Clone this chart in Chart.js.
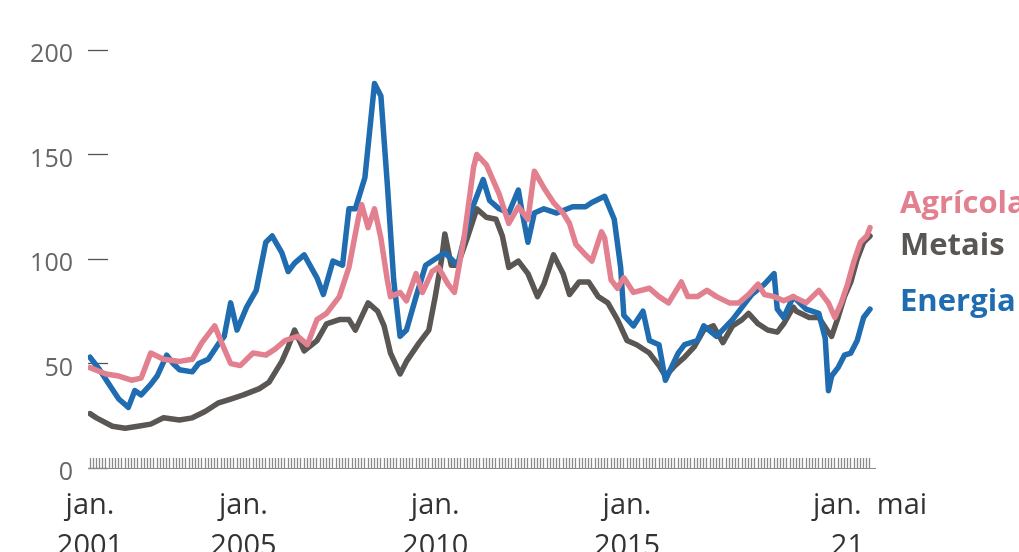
<!DOCTYPE html>
<html>
<head>
<meta charset="utf-8">
<script src="https://cdn.jsdelivr.net/npm/chart.js@4/dist/chart.umd.min.js"></script>
<style>
  html, body { margin: 0; padding: 0; background: #ffffff; }
  #wrap { position: relative; width: 1019px; height: 552px; }
</style>
</head>
<body>
<div id="wrap"><canvas id="c"></canvas></div>
<script>
// ---- data ----
const seriesNames = ["Agrícola", "Metais", "Energia"];

const energiaDates = ["2001-01","2001-04","2001-07","2001-10","2002-01","2002-03","2002-05","2002-08","2002-10","2003-01","2003-03","2003-05","2003-09","2003-11","2004-02","2004-05","2004-07","2004-09","2004-11","2005-02","2005-05","2005-08","2005-10","2006-01","2006-03","2006-05","2006-08","2006-12","2007-02","2007-05","2007-08","2007-10","2007-12","2008-03","2008-06","2008-08","2008-10","2008-12","2009-02","2009-04","2009-07","2009-10","2010-01","2010-04","2010-08","2010-12","2011-02","2011-04","2011-06","2011-09","2011-12","2012-03","2012-04","2012-06","2012-08","2012-11","2013-03","2013-08","2013-12","2014-02","2014-06","2014-09","2014-11","2014-12","2015-03","2015-06","2015-08","2015-11","2016-01","2016-05","2016-07","2016-11","2017-01","2017-05","2017-10","2018-01","2018-04","2018-08","2018-11","2018-12","2019-02","2019-05","2019-09","2020-01","2020-03","2020-04","2020-05","2020-07","2020-09","2020-11","2021-01","2021-03","2021-05"];
const energiaValues = [53,47,40,33,29,37,35,40,44,54,50,47,46,50,52,59,63,79,66,77,85,108,111,103,94,98,102,91,83,99,97,124,124,139,184,178,136,90,63,66,82,97,100,103,97,122,130,138,128,124,122,133,124,108,122,124,122,125,125,127,130,119,96,73,68,75,61,59,42,55,59,61,68,63,71,77,83,88,93,76,72,82,76,74,62,37,44,48,54,55,61,72,76];

const agricolaDates = ["2001-01","2001-06","2001-10","2002-02","2002-05","2002-08","2002-12","2003-05","2003-09","2003-12","2004-04","2004-07","2004-09","2004-12","2005-04","2005-08","2005-11","2006-02","2006-06","2006-09","2006-12","2007-03","2007-07","2007-10","2008-01","2008-02","2008-04","2008-06","2008-08","2008-10","2008-11","2009-02","2009-04","2009-07","2009-09","2009-12","2010-02","2010-05","2010-07","2010-10","2011-01","2011-02","2011-05","2011-09","2011-12","2012-03","2012-06","2012-08","2012-11","2013-02","2013-05","2013-07","2013-09","2013-12","2014-02","2014-05","2014-06","2014-08","2014-10","2014-12","2015-03","2015-08","2015-11","2016-02","2016-06","2016-08","2016-11","2017-02","2017-05","2017-09","2017-12","2018-03","2018-06","2018-08","2018-11","2019-02","2019-05","2019-09","2020-01","2020-04","2020-06","2020-08","2020-10","2020-12","2021-02","2021-04","2021-05"];
const agricolaValues = [48,45,44,42,43,55,52,51,52,60,68,57,50,49,55,54,57,61,63,59,71,74,82,96,120,126,115,124,110,90,82,84,80,93,84,94,96,88,84,110,144,150,145,131,117,125,119,142,134,127,122,117,107,102,99,113,110,90,86,91,84,86,82,79,89,82,82,85,82,79,79,83,88,83,82,80,82,79,85,79,72,79,88,99,108,111,115];

const metaisDates = ["2001-01","2001-03","2001-08","2001-12","2002-04","2002-08","2002-12","2003-05","2003-09","2004-01","2004-05","2004-09","2005-01","2005-06","2005-09","2005-11","2006-01","2006-03","2006-05","2006-08","2006-12","2007-03","2007-07","2007-10","2007-12","2008-04","2008-07","2008-09","2008-11","2009-02","2009-04","2009-08","2009-11","2010-01","2010-03","2010-04","2010-06","2010-08","2010-11","2011-02","2011-05","2011-08","2011-10","2011-12","2012-03","2012-06","2012-09","2012-11","2013-02","2013-05","2013-07","2013-10","2014-01","2014-04","2014-07","2014-10","2015-01","2015-04","2015-08","2015-11","2016-01","2016-04","2016-07","2016-10","2017-01","2017-04","2017-07","2017-10","2018-01","2018-03","2018-06","2018-09","2018-12","2019-02","2019-05","2019-06","2019-10","2020-01","2020-04","2020-05","2020-07","2020-09","2020-11","2021-01","2021-03","2021-05"];
const metaisValues = [26,24,20,19,20,21,24,23,24,27,31,33,35,38,41,46,51,58,66,56,61,69,71,71,66,79,75,68,55,45,51,60,66,82,100,112,97,97,110,124,120,119,111,96,99,93,82,88,102,93,83,89,89,82,79,71,61,59,55,49,44,49,53,58,66,68,60,68,71,74,69,66,65,69,77,75,72,72,65,63,72,82,89,100,108,111];

const yTickValues = [0, 50, 100, 150, 200];
const xFirstMonth = "2001-01";
const xLastMonth = "2021-05";
const xLabelMonths = ["2001-01", "2005-01", "2010-01", "2015-01", "2021-05"];
const xLabelLines = [["jan.", "2001"], ["jan.", "2005"], ["jan.", "2010"], ["jan.", "2015"], ["jan.  mai", "21      "]];

// ---- helpers ----
function monthToYear(s) {
  const [y, m] = s.split("-").map(Number);
  return y + (m - 1) / 12;
}
function monthIndex(s) {
  const [y, m] = s.split("-").map(Number);
  return y * 12 + (m - 1);
}
function pts(dates, values) {
  return dates.map((d, i) => ({ x: monthToYear(d), y: values[i] }));
}

const FONT = '"Open Sans", "Noto Sans", "DejaVu Sans", sans-serif';
const COLORS = { agricola: "#e3808f", metais: "#5a5653", energia: "#1f6db0" };

const startIdx = monthIndex(xFirstMonth);
const endIdx = monthIndex(xLastMonth);
const monthTicks = [];
for (let k = startIdx; k <= endIdx; k++) monthTicks.push(Math.floor(k / 12) + (k % 12) / 12);
const labelByIdx = {};
xLabelMonths.forEach((m, i) => { labelByIdx[monthIndex(m)] = xLabelLines[i]; });

const endLabels = {
  id: "endLabels",
  afterDraw(chart) {
    const ctx = chart.ctx;
    const x = chart.chartArea.right + 25;
    ctx.save();
    ctx.font = "bold 31px " + FONT;
    ctx.textAlign = "left";
    ctx.textBaseline = "alphabetic";
    const items = [
      [seriesNames[0], COLORS.agricola, 213],
      [seriesNames[1], COLORS.metais, 255],
      [seriesNames[2], COLORS.energia, 311]
    ];
    items.forEach(([t, c, y]) => { ctx.fillStyle = c; ctx.fillText(t, x, y); });
    ctx.restore();
  }
};

const lineStyle = { borderWidth: 5.5, pointRadius: 0, tension: 0, borderJoinStyle: "round", borderCapStyle: "round", fill: false };

new Chart(document.getElementById("c"), {
  type: "line",
  data: {
    datasets: [
      Object.assign({ label: seriesNames[0], data: pts(agricolaDates, agricolaValues), borderColor: COLORS.agricola }, lineStyle),
      Object.assign({ label: seriesNames[2], data: pts(energiaDates, energiaValues), borderColor: COLORS.energia }, lineStyle),
      Object.assign({ label: seriesNames[1], data: pts(metaisDates, metaisValues), borderColor: COLORS.metais }, lineStyle)
    ]
  },
  options: {
    responsive: true,
    maintainAspectRatio: false,
    animation: false,
    layout: { padding: { top: 40, right: 144, left: 0, bottom: 0 } },
    plugins: { legend: { display: false }, tooltip: { enabled: false } },
    scales: {
      x: {
        type: "linear",
        min: 2001 - 2 / 38.36,
        max: 2021.464,
        afterBuildTicks: s => { s.ticks = monthTicks.map(v => ({ value: v })); },
        afterFit: s => { s.height = 84; },
        border: { display: true, color: "#8a8a8a", width: 1 },
        grid: { drawOnChartArea: false, drawTicks: true, tickLength: -10, tickColor: "#8a8a8a", tickWidth: 1.3 },
        ticks: {
          autoSkip: false, maxRotation: 0, minRotation: 0, padding: 27,
          color: "#333333",
          font: { family: FONT, size: 29, lineHeight: 1.42 },
          callback: function (v) {
            const k = Math.round(v * 12);
            return labelByIdx[k] || "";
          }
        }
      },
      y: {
        min: 0, max: 200,
        afterBuildTicks: s => { s.ticks = yTickValues.map(v => ({ value: v })); },
        afterFit: s => { s.width = 88; },
        border: { display: false },
        grid: { drawOnChartArea: false, drawTicks: true, tickLength: -20, tickColor: "#555555", tickWidth: 1.3 },
        ticks: { padding: 35, labelOffset: 5, color: "#666666", font: { family: FONT, size: 25 } }
      }
    }
  },
  plugins: [endLabels]
});
</script>
</body>
</html>
